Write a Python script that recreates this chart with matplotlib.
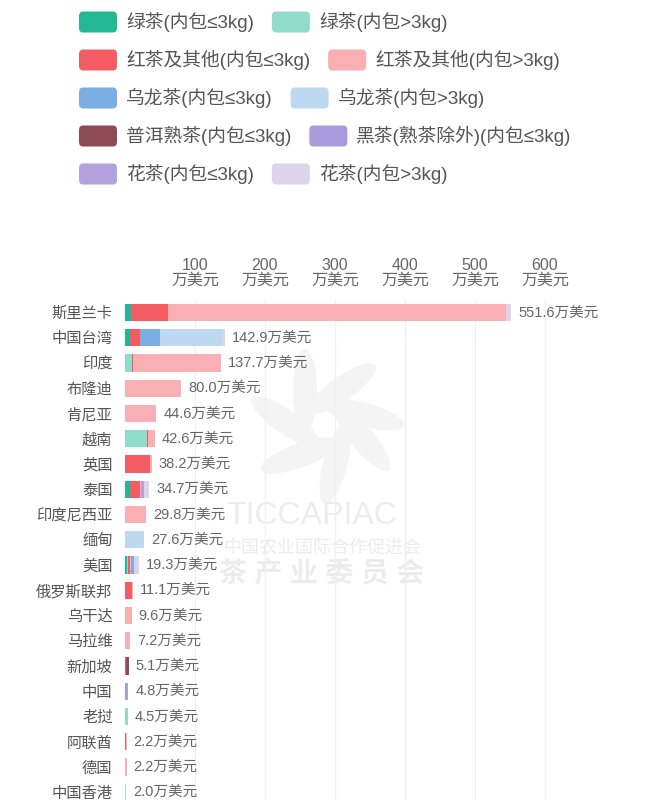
import matplotlib
matplotlib.use("Agg")
import matplotlib.pyplot as plt
from matplotlib.patches import FancyBboxPatch, Ellipse
import numpy as np

plt.rcParams['font.family'] = ['Liberation Sans', 'Noto Sans CJK SC', 'DejaVu Sans']

countries = ["斯里兰卡", "中国台湾", "印度", "布隆迪", "肯尼亚", "越南", "英国", "泰国",
             "印度尼西亚", "缅甸", "美国", "俄罗斯联邦", "乌干达", "马拉维", "新加坡",
             "中国", "老挝", "阿联酋", "德国", "中国香港"]

# 万美元, one list per tea category (stacked in this order)
green_le = [9, 7.5, 0, 0, 0, 0, 0, 6.5, 0, 0, 3, 0, 0, 0, 0, 0, 0, 0, 0, 0]
green_gt = [0, 0, 10.6, 0, 0, 32, 0, 1, 0, 0, 1, 0, 0, 0, 0, 0, 4.5, 0, 0, 0]
red_le = [53, 14, 1.5, 0, 0, 1.5, 36, 14, 0, 0, 3, 10, 0, 0, 2.1, 0, 0, 1.0, 0, 0]
red_gt = [483, 0, 125.6, 80, 44.6, 9.1, 2.2, 2, 29.8, 0, 1.5, 1.1, 9.6, 7.2, 0, 0, 0, 1.2, 2.2, 0]
oolong_le = [0, 29, 0, 0, 0, 0, 0, 0, 0, 0, 4, 0, 0, 0, 0, 0, 0, 0, 0, 0]
oolong_gt = [0, 88.4, 0, 0, 0, 0, 0, 0, 0, 27.6, 2, 0, 0, 0, 0, 0, 0, 0, 0, 1.0]
puer_le = [0, 0, 0, 0, 0, 0, 0, 0, 0, 0, 0, 0, 0, 0, 3, 0, 0, 0, 0, 1.0]
dark_le = [0, 0, 0, 0, 0, 0, 0, 0, 0, 0, 0, 0, 0, 0, 0, 2.4, 0, 0, 0, 0]
flower_le = [0, 0, 0, 0, 0, 0, 0, 4, 0, 0, 0, 0, 0, 0, 0, 2.4, 0, 0, 0, 0]
flower_gt = [6.6, 4, 0, 0, 0, 0, 0, 7.2, 0, 0, 4.8, 0, 0, 0, 0, 0, 0, 0, 0, 0]

series = [
    ("绿茶(内包≤3kg)", green_le, "#22b894"),
    ("绿茶(内包>3kg)", green_gt, "#8edcc9"),
    ("红茶及其他(内包≤3kg)", red_le, "#f45c63"),
    ("红茶及其他(内包>3kg)", red_gt, "#f9afb4"),
    ("乌龙茶(内包≤3kg)", oolong_le, "#7badE2"),
    ("乌龙茶(内包>3kg)", oolong_gt, "#bed8f2"),
    ("普洱熟茶(内包≤3kg)", puer_le, "#8c4b56"),
    ("黑茶(熟茶除外)(内包≤3kg)", dark_le, "#a99bdb"),
    ("花茶(内包≤3kg)", flower_le, "#b3a1dd"),
    ("花茶(内包>3kg)", flower_gt, "#ddd4ec"),
]
ticks = [100, 200, 300, 400, 500, 600]

W, H = 655, 800
fig = plt.figure(figsize=(W / 100, H / 100), dpi=100)
fig.patch.set_facecolor("white")

# background layer in pixel coords for the watermark
bg = fig.add_axes([0, 0, 1, 1], zorder=0)
bg.set_xlim(0, W)
bg.set_ylim(H, 0)
bg.axis("off")
cx, cy = 325, 425
for ang in [20, 75, 130, 185, 240, 295, 345]:
    r = np.deg2rad(ang)
    ex, ey = cx + 40 * np.cos(r), cy + 40 * np.sin(r)
    bg.add_patch(Ellipse((ex, ey), 82, 24, angle=ang + 30, facecolor="#f4f4f4",
                         edgecolor="none"))
bg.text(312, 516, "TICCAPIAC", fontsize=23, color="#ececec", ha="center", va="center")
bg.text(322, 548, "中国农业国际合作促进会", fontsize=13, color="#ececec",
        ha="center", va="center")
bg.text(322, 574, "茶 产 业 委 员 会", fontsize=20, color="#ececec", ha="center",
        va="center", fontweight="bold")

# --- legend drawn by hand (two entries per row, flowing) ---
renderer = fig.canvas.get_renderer()
row_y = [22, 60, 98, 136, 174]
for r in range(5):
    x = 79
    for c in range(2):
        label, _, col = series[r * 2 + c]
        y = row_y[r]
        box = FancyBboxPatch((x / W, 1 - (y + 10.5) / H), 38 / W, 21 / H,
                             boxstyle="round,pad=0,rounding_size=0.006",
                             transform=fig.transFigure, facecolor=col, edgecolor="none")
        fig.patches.append(box)
        t = fig.text((x + 47) / W, 1 - y / H, label, fontsize=13.5, color="#555555",
                     va="center", ha="left")
        wpx = t.get_window_extent(renderer).width
        x = x + 47 + wpx + 18

# --- bar chart ---
px_per_unit = 0.70
ax_left, ax_right, ax_top = 125, 620, 300
ax = fig.add_axes([ax_left / W, 0, (ax_right - ax_left) / W, 1 - ax_top / H], zorder=1)
ax.patch.set_alpha(0)
row_h = 25.25
row0 = 312.5
ax.set_xlim(0, (ax_right - ax_left) / px_per_unit)
ax.set_ylim((H - row0) / row_h, (ax_top - row0) / row_h)

ypos = np.arange(len(countries))
left = np.zeros(len(countries))
for label, vals, col in series:
    v = np.array(vals, dtype=float)
    ax.barh(ypos, v, left=left, height=0.68, color=col, edgecolor="none", zorder=2)
    left += v

for i, total in enumerate(left):
    ax.annotate(f"{total:.1f}万美元", xy=(total, i), xytext=(5, 0),
                textcoords="offset points", va="center", ha="left",
                fontsize=10.5, color="#666666")

ax.xaxis.tick_top()
ax.set_xticks(ticks)
ax.set_xticklabels([f"{t}\n万美元" for t in ticks], fontsize=11.5, color="#666666",
                   linespacing=0.95)
ax.set_yticks(ypos)
ax.set_yticklabels(countries, fontsize=11, color="#555555")
ax.tick_params(axis="both", length=0)
ax.tick_params(axis="x", pad=9)
ax.tick_params(axis="y", pad=9)
ax.grid(axis="x", color="#f0f0f0", linewidth=1, zorder=0)
ax.set_axisbelow(True)
for s in ax.spines.values():
    s.set_visible(False)

fig.savefig("out.png", dpi=100)
